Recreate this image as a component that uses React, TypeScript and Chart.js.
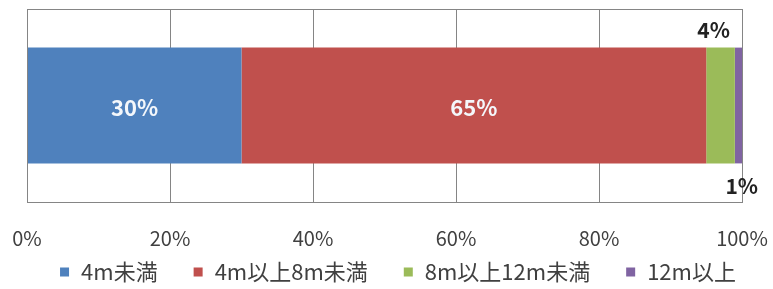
import React, { useEffect, useRef } from "react";
import { Chart, registerables } from "chart.js";

Chart.register(...registerables);

const categories = [""];
const seriesNames = ["4m未満", "4m以上8m未満", "8m以上12m未満", "12m以上"];
const seriesValues = [30, 65, 4, 1];
const seriesLabels = ["30%", "65%", "4%", "1%"];
const seriesColors = ["#4F81BD", "#C0504D", "#9BBB59", "#8064A2"];
const xTicks = [0, 20, 40, 60, 80, 100];

const FONT = "'Noto Sans CJK JP', 'Noto Sans', sans-serif";

const frameAndLabels = {
  id: "frameAndLabels",
  afterDatasetsDraw(chart: any) {
    const ctx = chart.ctx;
    const a = chart.chartArea;
    ctx.save();
    ctx.strokeStyle = "#858585";
    ctx.lineWidth = 1;
    ctx.strokeRect(Math.round(a.left) + 0.5, Math.round(a.top) + 0.5, Math.round(a.right - a.left), Math.round(a.bottom - a.top));
    chart.data.datasets.forEach((ds: any, i: number) => {
      const meta = chart.getDatasetMeta(i);
      const el = meta.data[0];
      if (!el) return;
      const { x, base, y, height } = el.getProps(["x", "base", "y", "height"], true);
      const label = seriesLabels[i];
      ctx.textBaseline = "middle";
      if (i < 2) {
        ctx.font = `bold 22px ${FONT}`;
        ctx.fillStyle = "#f4f7fb";
        ctx.textAlign = "center";
        ctx.fillText(label, (x + base) / 2, y + 2);
      } else if (i === 2) {
        ctx.font = `bold 21px ${FONT}`;
        ctx.fillStyle = "#222222";
        ctx.textAlign = "right";
        ctx.fillText(label, x - 5, y - height / 2 - 18);
      } else {
        ctx.font = `bold 21px ${FONT}`;
        ctx.fillStyle = "#222222";
        ctx.textAlign = "right";
        ctx.fillText(label, x + 16, y + height / 2 + 23);
      }
    });
    ctx.restore();
  },
  afterDraw(chart: any) {
    // legend drawn from the datasets' names and colours
    const ctx = chart.ctx;
    ctx.save();
    ctx.font = `22px ${FONT}`;
    ctx.textBaseline = "middle";
    ctx.textAlign = "left";
    const box = 9;
    const gapBoxText = 12;
    const gapItems = 36;
    const items = chart.data.datasets.map((ds: any) => ({
      text: ds.label,
      color: ds.backgroundColor,
      w: ctx.measureText(ds.label).width,
    }));
    const total = items.reduce((s: number, it: any) => s + box + gapBoxText + it.w, 0) + gapItems * (items.length - 1);
    let x = 398 - total / 2;
    const yc = 272;
    items.forEach((it: any) => {
      ctx.fillStyle = it.color;
      ctx.fillRect(x, yc - box / 2, box, box);
      ctx.fillStyle = "#404040";
      ctx.fillText(it.text, x + box + gapBoxText, yc);
      x += box + gapBoxText + it.w + gapItems;
    });
    ctx.restore();
  },
};

export default function App() {
  const ref = useRef<HTMLCanvasElement | null>(null);
  useEffect(() => {
    if (!ref.current) return;
    const chart = new Chart(ref.current, {
      type: "bar",
      data: {
        labels: categories,
        datasets: seriesNames.map((name, i) => ({
          label: name,
          data: [seriesValues[i]],
          backgroundColor: seriesColors[i],
          borderWidth: 0,
          barPercentage: 0.6,
          categoryPercentage: 1,
        })),
      },
      options: {
        indexAxis: "y",
        animation: false,
        responsive: false,
        maintainAspectRatio: false,
        layout: { padding: { left: 27, right: 31, top: 9, bottom: 15 } },
        scales: {
          x: {
            stacked: true,
            min: 0,
            max: 100,
            afterBuildTicks: (scale: any) => {
              scale.ticks = xTicks.map((v) => ({ value: v }));
            },
            afterFit: (scale: any) => {
              scale.paddingLeft = 0;
              scale.paddingRight = 0;
            },
            ticks: {
              callback: (v: any) => v + "%",
              color: "#404040",
              font: { family: FONT, size: 20 },
              padding: 24,
              maxRotation: 0,
            },
            grid: { color: "#858585", drawTicks: false },
            border: { display: false },
          },
          y: {
            stacked: true,
            display: false,
          },
        },
        plugins: {
          legend: { display: false },
          tooltip: { enabled: false },
        },
      },
      plugins: [frameAndLabels],
    } as any);
    return () => chart.destroy();
  }, []);
  return (
    <div style={{ position: "fixed", left: 0, top: 0, width: 773, height: 289, background: "#fff" }}>
      <canvas ref={ref} width={773} height={289} style={{ width: 773, height: 289 }} />
    </div>
  );
}
